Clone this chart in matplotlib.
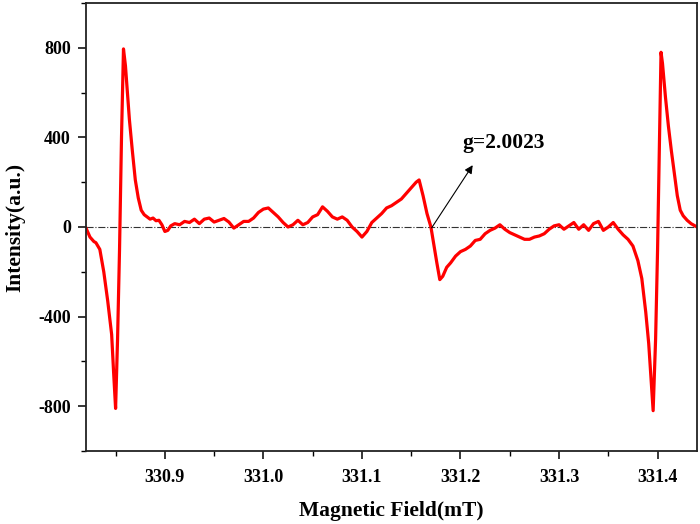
import matplotlib
matplotlib.use("Agg")
import matplotlib.pyplot as plt
from matplotlib.ticker import MultipleLocator

plt.rcParams['font.family'] = ['Liberation Serif', 'DejaVu Serif']
plt.rcParams['font.weight'] = 'bold'

# 磁场 (mT)
field = [
    330.820, 330.824, 330.828, 330.830, 330.834, 330.838, 330.842, 330.846,
    330.848, 330.850, 330.852, 330.854, 330.856, 330.858, 330.860, 330.862,
    330.864, 330.867, 330.870, 330.873, 330.876, 330.879, 330.882, 330.885,
    330.888, 330.891, 330.894, 330.897, 330.900, 330.903, 330.906, 330.910,
    330.915, 330.920, 330.925, 330.930, 330.935, 330.940, 330.945, 330.950,
    330.955, 330.960, 330.965, 330.970, 330.975, 330.980, 330.985, 330.990,
    330.995, 331.000, 331.005, 331.010, 331.015, 331.020, 331.025, 331.030,
    331.035, 331.040, 331.045, 331.050, 331.055, 331.060, 331.065, 331.070,
    331.075, 331.080, 331.085, 331.090, 331.095, 331.100, 331.105, 331.110,
    331.115, 331.120, 331.125, 331.130, 331.135, 331.140, 331.145, 331.150,
    331.155, 331.158, 331.162, 331.166, 331.170, 331.173, 331.176, 331.179,
    331.182, 331.186, 331.190, 331.195, 331.200, 331.205, 331.210, 331.215,
    331.220, 331.225, 331.230, 331.235, 331.240, 331.245, 331.250, 331.255,
    331.260, 331.265, 331.270, 331.275, 331.280, 331.285, 331.290, 331.295,
    331.300, 331.305, 331.310, 331.315, 331.320, 331.325, 331.330, 331.335,
    331.340, 331.345, 331.350, 331.355, 331.360, 331.365, 331.370, 331.375,
    331.380, 331.384, 331.388, 331.391, 331.394, 331.3955, 331.398, 331.400,
    331.402, 331.4035, 331.405, 331.408, 331.411, 331.414, 331.417, 331.420,
    331.423, 331.426, 331.430, 331.434, 331.438, 331.440,
]

# 强度 (a.u.)
intensity = [
    -5, -45, -65, -70, -100, -200, -330, -480,
    -650, -810, -500, -100, 400, 795, 720, 600,
    480, 340, 210, 130, 75, 55, 45, 35,
    40, 28, 30, 10, -20, -15, 5, 15,
    10, 25, 20, 35, 15, 35, 40, 22,
    30, 38, 22, -5, 10, 25, 25, 40,
    65, 80, 85, 65, 45, 20, 0, 10,
    30, 10, 20, 45, 55, 90, 70, 45,
    35, 45, 30, 0, -20, -45, -20, 20,
    40, 60, 85, 95, 110, 125, 150, 175,
    200, 210, 140, 60, 0, -80, -160, -235,
    -220, -180, -160, -130, -110, -100, -85, -60,
    -55, -30, -15, -5, 10, -10, -25, -35,
    -45, -55, -55, -45, -40, -30, -10, 5,
    10, -10, 5, 20, -10, 10, -15, 15,
    25, -15, 0, 20, -10, -35, -55, -85,
    -150, -230, -380, -520, -720, -820, -500, -100,
    400, 780, 730, 580, 450, 340, 240, 140,
    75, 50, 30, 15, 5, 0,
]

g_label = "g=2.0023"
g_point = (331.1707, -4)
g_text = (331.2124, 276)

fig = plt.figure(figsize=(7.0, 5.24), dpi=100)
ax = fig.add_axes([0.1229, 0.1393, 0.8728, 0.855])

ax.axhline(0, color='#333333', lw=0.8, ls='-.', zorder=1)
ax.plot(field, intensity, color='#ff0000', lw=2.3, zorder=2)

ax.annotate("", xy=g_text, xytext=g_point,
            arrowprops=dict(arrowstyle='-|>', color='black', lw=0.8,
                            mutation_scale=12, shrinkA=0, shrinkB=0))
ax.text(331.2022, 374, g_label, fontsize=15.5, fontweight='bold',
        ha='left', va='center')

ax.set_xlim(330.82, 331.44)
ax.set_ylim(-1000, 1000)
ax.xaxis.set_major_locator(MultipleLocator(0.1))
ax.xaxis.set_minor_locator(MultipleLocator(0.05))
ax.yaxis.set_major_locator(MultipleLocator(400))
ax.yaxis.set_minor_locator(MultipleLocator(200))
ax.set_xticks([330.9, 331.0, 331.1, 331.2, 331.3, 331.4])
ax.set_xticklabels(['330.9', '331.0', '331.1', '331.2', '331.3', '331.4'])
ax.set_yticks([-800, -400, 0, 400, 800])
ax.set_yticklabels(['-800', '-400', '0', '400', '800'])

ax.tick_params(which='major', direction='out', length=6, width=1.1,
               labelsize=13)
ax.tick_params(which='minor', direction='out', length=3.5, width=1.0)
ax.tick_params(axis='x', which='major', pad=7)
ax.tick_params(axis='y', which='major', pad=5)
for lab in ax.get_xticklabels() + ax.get_yticklabels():
    lab.set_fontweight('bold')

for s in ax.spines.values():
    s.set_linewidth(1.3)
    s.set_color('#222222')

ax.set_xlabel("Magnetic Field(mT)", fontsize=15.5, fontweight='bold', labelpad=11)
ax.set_ylabel("Intensity(a.u.)", fontsize=15.5, fontweight='bold', labelpad=9)

fig.savefig("out.png", dpi=100)
